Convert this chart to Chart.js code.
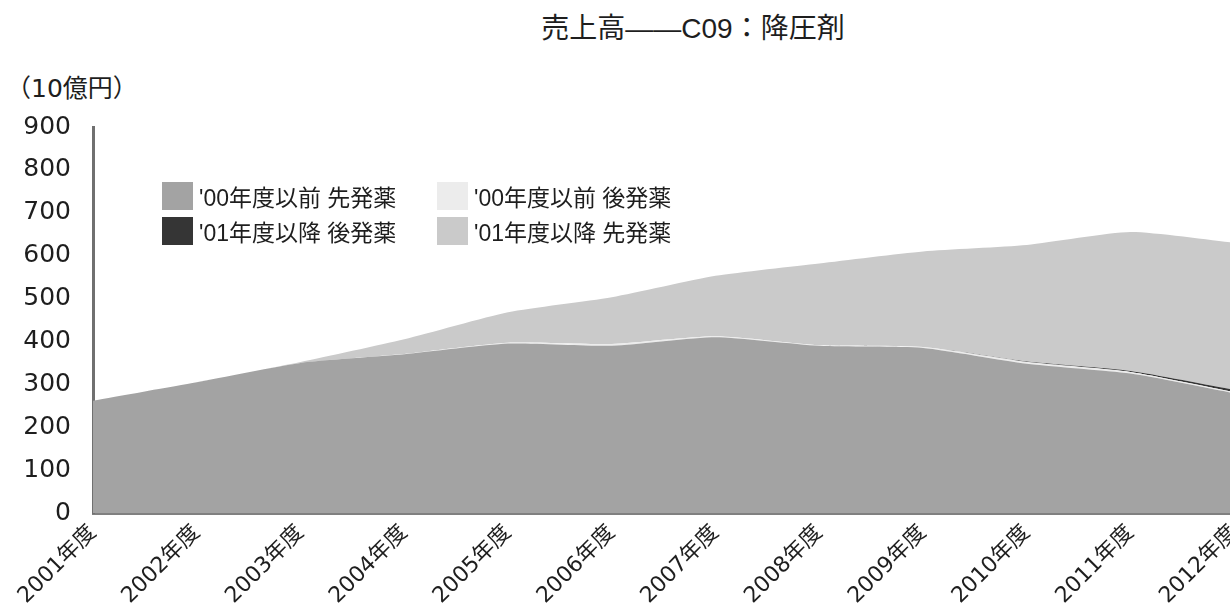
<!DOCTYPE html>
<html lang="ja">
<head>
<meta charset="utf-8">
<title>売上高――C09：降圧剤</title>
<script src="https://cdn.jsdelivr.net/npm/chart.js@4.4.0/dist/chart.umd.min.js"></script>
<style>
html,body{margin:0;padding:0;background:#ffffff;overflow:hidden;}
body{width:1230px;height:611px;position:relative;font-family:"Liberation Sans","Noto Sans CJK JP",sans-serif;color:#1e1e1e;}
#title{position:absolute;left:693px;top:6px;transform:translateX(-50%);font-size:28px;white-space:nowrap;}
#unit{position:absolute;left:6px;top:68px;font-size:25px;white-space:nowrap;font-family:"DejaVu Sans","Noto Sans CJK JP",sans-serif;}
#salesChart{position:absolute;left:0;top:0;}
#legend{position:absolute;left:162px;top:181px;display:grid;grid-template-columns:275px 260px;row-gap:5px;font-size:23px;}
#legend .item{display:flex;align-items:center;height:30px;white-space:nowrap;}
#legend .box{width:31px;height:28px;margin-right:6px;}
</style>
</head>
<body>

<div id="title">売上高――C09：降圧剤</div>
<div id="unit">（10億円）</div>
<canvas id="salesChart" width="1260" height="611"></canvas>
<div id="legend"></div>

<script>
/* ============================================================
   DATA (10億円)
============================================================ */

const years=["2001年度","2002年度","2003年度","2004年度","2005年度","2006年度",
             "2007年度","2008年度","2009年度","2010年度","2011年度","2012年度"];

const brandBefore00=[262,305,350,370,395,390,410,390,385,348,325,279];

const genericBefore00=[0,0,0,1,2,4,2,1,2,4,4,3];

const genericAfter01=[0,0,0,0,0,0,0,0,0,1,2,5];

const brandAfter01=[0,0,2,34,71,109,141,191,223,272,324,343];

const yTicks=[0,100,200,300,400,500,600,700,800,900];

const seriesNames=["'00年度以前 先発薬","'00年度以前 後発薬","'01年度以降 後発薬","'01年度以降 先発薬"];

const seriesColors=["#a3a3a3","#ececec","#353535","#cacaca"];

const legendOrder=[0,1,2,3];



document.addEventListener("DOMContentLoaded",()=>{

    crearLlegenda();

    crearGrafic();

});



/* ============================================================
   LLEGENDA
============================================================ */

function crearLlegenda(){

    const legend=document.getElementById("legend");

    legendOrder.forEach(i=>{

        const item=document.createElement("div");
        item.className="item";

        const box=document.createElement("span");
        box.className="box";
        box.style.background=seriesColors[i];

        const text=document.createElement("span");
        text.textContent=seriesNames[i];

        item.appendChild(box);
        item.appendChild(text);
        legend.appendChild(item);

    });

}



/* ============================================================
   GRÀFIC
============================================================ */

function crearGrafic(){

    const font="'DejaVu Sans','Noto Sans CJK JP',sans-serif";

    const values=[brandBefore00,genericBefore00,genericAfter01,brandAfter01];

    new Chart(document.getElementById("salesChart"),{

        type:"line",

        data:{

            labels:years,

            datasets:values.map((v,i)=>({

                label:seriesNames[i],

                data:v,

                fill:i===0?"origin":"-1",

                backgroundColor:seriesColors[i],

                borderColor:seriesColors[i],

                borderWidth:0,

                pointRadius:0,

                tension:0.2

            }))

        },

        options:{

            responsive:false,

            animation:false,

            devicePixelRatio:1,

            layout:{

                padding:{top:127,right:8,left:0,bottom:0}

            },

            plugins:{

                legend:{display:false},

                tooltip:{enabled:false}

            },

            scales:{

                x:{

                    grid:{display:false,drawTicks:false},

                    border:{color:"#808080",width:3},

                    ticks:{

                        color:"#1e1e1e",

                        font:{family:font,size:22},

                        maxRotation:45,

                        minRotation:45,

                        autoSkip:false,

                        padding:7

                    },

                    afterFit(scale){

                        scale.height=98;

                    }

                },

                y:{

                    stacked:true,

                    min:yTicks[0],

                    max:yTicks[yTicks.length-1],

                    grid:{display:false,drawTicks:false},

                    border:{color:"#707070",width:3},

                    afterBuildTicks(scale){

                        scale.ticks=yTicks.map(v=>({value:v}));

                    },

                    ticks:{

                        color:"#1e1e1e",

                        font:{family:font,size:25},

                        padding:22

                    },

                    afterFit(scale){

                        scale.width=93;

                    }

                }

            }

        }

    });

}
</script>
</body>
</html>
